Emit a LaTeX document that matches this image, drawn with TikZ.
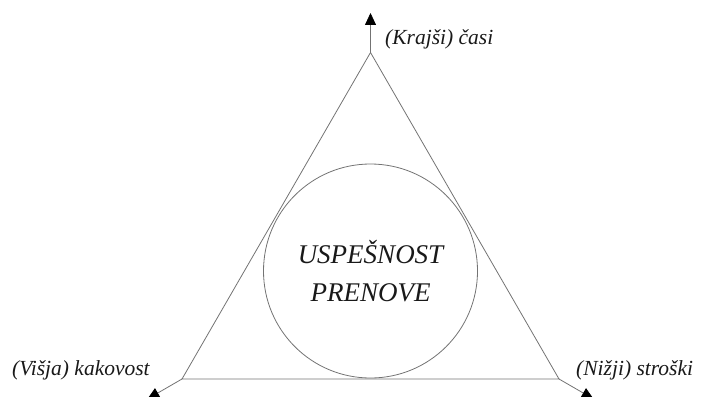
\documentclass[tikz,border=0pt]{standalone}
\usepackage{fontspec}
\setmainfont{Liberation Serif}
\usetikzlibrary{arrows.meta}
\begin{document}
\begin{tikzpicture}[x=1pt,y=-1pt,
  edge/.style={draw=black!55, line width=0.8pt},
  axis/.style={edge, -{Triangle[length=12pt,width=11pt,color=black,fill=black]}},
  lbl/.style={inner sep=0pt, anchor=base west, font=\fontsize{21.5}{25}\selectfont\itshape, text=black!90},
  core/.style={circle, edge, minimum size=214pt, inner sep=0pt, align=center,
    font=\fontsize{27}{37.6}\selectfont\itshape, text=black!90}]
  \clip (0,0) rectangle (708,396);
  \useasboundingbox (0,0) rectangle (708,396);
  % triangle corners
  \coordinate (top) at (370.5,52.5);
  \coordinate (left) at (182,379);
  \coordinate (right) at (559,379);
  % outward arrow ends
  \coordinate (topEnd) at (370.5,13);
  \coordinate (leftEnd) at (147.4,399);
  \coordinate (rightEnd) at (593.6,399);
  \draw[edge, line join=miter] (top) -- (left) -- (right) -- cycle;
  \draw[axis] (top) -- (topEnd);
  \draw[axis] (left) -- (leftEnd);
  \draw[axis] (right) -- (rightEnd);
  % central circle
  \node[core] (success) at (370.5,271) {USPEŠNOST\\PRENOVE};
  % corner labels
  \node[lbl] (time) at (385,45) {(Krajši) časi};
  \node[lbl] (quality) at (12,375) {(Višja) kakovost};
  \node[lbl] (cost) at (576,375) {(Nižji) stroški};
\end{tikzpicture}
\end{document}
